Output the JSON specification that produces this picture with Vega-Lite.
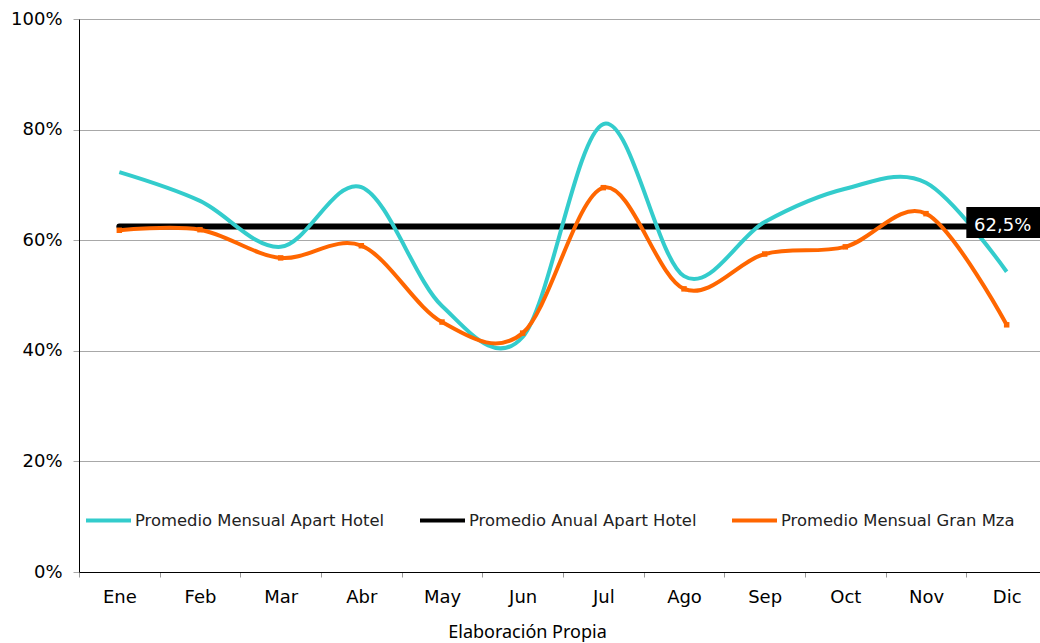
{
  "$schema": "https://vega.github.io/schema/vega-lite/v6.json",
  "autosize": {"type": "none"},
  "width": 961,
  "height": 553,
  "padding": {"left": 79, "top": 19, "right": 0, "bottom": 71},
  "background": "white",
  "config": {"view": {"stroke": null}, "font": "DejaVu Sans"},
  "datasets": {
    "series": [
      {"month": "Ene", "series": "Promedio Mensual Apart Hotel", "value": 0.723},
      {"month": "Feb", "series": "Promedio Mensual Apart Hotel", "value": 0.671},
      {"month": "Mar", "series": "Promedio Mensual Apart Hotel", "value": 0.588},
      {"month": "Abr", "series": "Promedio Mensual Apart Hotel", "value": 0.696},
      {"month": "May", "series": "Promedio Mensual Apart Hotel", "value": 0.481},
      {"month": "Jun", "series": "Promedio Mensual Apart Hotel", "value": 0.425},
      {"month": "Jul", "series": "Promedio Mensual Apart Hotel", "value": 0.810},
      {"month": "Ago", "series": "Promedio Mensual Apart Hotel", "value": 0.535},
      {"month": "Sep", "series": "Promedio Mensual Apart Hotel", "value": 0.633},
      {"month": "Oct", "series": "Promedio Mensual Apart Hotel", "value": 0.693},
      {"month": "Nov", "series": "Promedio Mensual Apart Hotel", "value": 0.704},
      {"month": "Dic", "series": "Promedio Mensual Apart Hotel", "value": 0.543},
      {"month": "Ene", "series": "Promedio Anual Apart Hotel", "value": 0.625},
      {"month": "Feb", "series": "Promedio Anual Apart Hotel", "value": 0.625},
      {"month": "Mar", "series": "Promedio Anual Apart Hotel", "value": 0.625},
      {"month": "Abr", "series": "Promedio Anual Apart Hotel", "value": 0.625},
      {"month": "May", "series": "Promedio Anual Apart Hotel", "value": 0.625},
      {"month": "Jun", "series": "Promedio Anual Apart Hotel", "value": 0.625},
      {"month": "Jul", "series": "Promedio Anual Apart Hotel", "value": 0.625},
      {"month": "Ago", "series": "Promedio Anual Apart Hotel", "value": 0.625},
      {"month": "Sep", "series": "Promedio Anual Apart Hotel", "value": 0.625},
      {"month": "Oct", "series": "Promedio Anual Apart Hotel", "value": 0.625},
      {"month": "Nov", "series": "Promedio Anual Apart Hotel", "value": 0.625},
      {"month": "Dic", "series": "Promedio Anual Apart Hotel", "value": 0.625},
      {"month": "Ene", "series": "Promedio Mensual Gran Mza", "value": 0.618},
      {"month": "Feb", "series": "Promedio Mensual Gran Mza", "value": 0.619},
      {"month": "Mar", "series": "Promedio Mensual Gran Mza", "value": 0.568},
      {"month": "Abr", "series": "Promedio Mensual Gran Mza", "value": 0.590},
      {"month": "May", "series": "Promedio Mensual Gran Mza", "value": 0.452},
      {"month": "Jun", "series": "Promedio Mensual Gran Mza", "value": 0.432},
      {"month": "Jul", "series": "Promedio Mensual Gran Mza", "value": 0.695},
      {"month": "Ago", "series": "Promedio Mensual Gran Mza", "value": 0.512},
      {"month": "Sep", "series": "Promedio Mensual Gran Mza", "value": 0.575},
      {"month": "Oct", "series": "Promedio Mensual Gran Mza", "value": 0.588},
      {"month": "Nov", "series": "Promedio Mensual Gran Mza", "value": 0.648},
      {"month": "Dic", "series": "Promedio Mensual Gran Mza", "value": 0.447}
    ],
    "label": [
      {"month": "Dic", "label": "62,5%", "value": 0.625, "top": 0.66, "bottom": 0.604}
    ]
  },
  "encoding": {
    "x": {
      "field": "month",
      "type": "nominal",
      "sort": ["Ene", "Feb", "Mar", "Abr", "May", "Jun", "Jul", "Ago", "Sep", "Oct", "Nov", "Dic"],
      "scale": {"type": "band", "paddingInner": 0, "paddingOuter": 0, "range": [0, 968]},
      "axis": {
        "title": "Elaboración Propia",
        "titleFont": "Noto Sans",
        "titleFontSize": 18,
        "titleFontWeight": "normal",
        "titleColor": "#000000",
        "titleX": 448,
        "titleY": 60,
        "titleBaseline": "middle",
        "titleAlign": "center",
        "labelFontSize": 18,
        "labelColor": "#000000",
        "labelAngle": 0,
        "labelPadding": 11,
        "tickBand": "extent",
        "tickSize": 5,
        "tickColor": "#999999",
        "domainColor": "#000000",
        "grid": false
      }
    }
  },
  "layer": [
    {
      "data": {"name": "series"},
      "transform": [{"filter": "datum.series === 'Promedio Anual Apart Hotel'"}],
      "mark": {"type": "line", "strokeWidth": 6, "strokeCap": "round"},
      "encoding": {
        "y": {
          "field": "value",
          "type": "quantitative",
          "scale": {"domain": [0, 1], "nice": false},
          "axis": {
            "title": null,
            "format": ".0%",
            "values": [0, 0.2, 0.4, 0.6, 0.8, 1],
            "labelFontSize": 18,
            "labelColor": "#000000",
            "labelPadding": 11,
            "tickSize": 6,
            "tickColor": "#a8a8a8",
            "gridColor": "#a8a8a8",
            "domainColor": "#000000",
            "grid": true
          }
        },
        "color": {
          "field": "series",
          "type": "nominal",
          "scale": {
            "domain": ["Promedio Mensual Apart Hotel", "Promedio Anual Apart Hotel", "Promedio Mensual Gran Mza"],
            "range": ["#33CCCC", "#000000", "#FF6600"]
          },
          "legend": {
            "orient": "none",
            "legendX": 5,
            "legendY": 477,
            "direction": "horizontal",
            "title": null,
            "symbolType": "stroke",
            "symbolSize": 2025,
            "symbolStrokeWidth": 4,
            "labelFontSize": 16.4,
            "labelFont": "DejaVu Sans",
            "labelColor": "#222222",
            "columnPadding": 27,
            "labelOffset": 2,
            "labelLimit": 400
          }
        }
      }
    },
    {
      "data": {"name": "series"},
      "transform": [{"filter": "datum.series !== 'Promedio Anual Apart Hotel'"}],
      "mark": {"type": "line", "strokeWidth": 4, "interpolate": "cardinal"},
      "encoding": {
        "y": {"field": "value", "type": "quantitative"},
        "color": {"field": "series", "type": "nominal"}
      }
    },
    {
      "data": {"name": "series"},
      "transform": [{"filter": "datum.series === 'Promedio Mensual Gran Mza'"}],
      "mark": {"type": "point", "shape": "square", "filled": true, "size": 30, "color": "#FF6600", "opacity": 1},
      "encoding": {
        "y": {"field": "value", "type": "quantitative"}
      }
    },
    {
      "data": {"name": "label"},
      "mark": {"type": "bar", "color": "#000000"},
      "encoding": {
        "y": {"field": "top", "type": "quantitative"},
        "y2": {"field": "bottom"}
      }
    },
    {
      "data": {"name": "label"},
      "mark": {"type": "text", "color": "#ffffff", "fontSize": 18, "font": "DejaVu Sans", "dx": -4, "align": "center", "baseline": "middle"},
      "encoding": {
        "y": {"field": "value", "type": "quantitative"},
        "text": {"field": "label"}
      }
    }
  ]
}
